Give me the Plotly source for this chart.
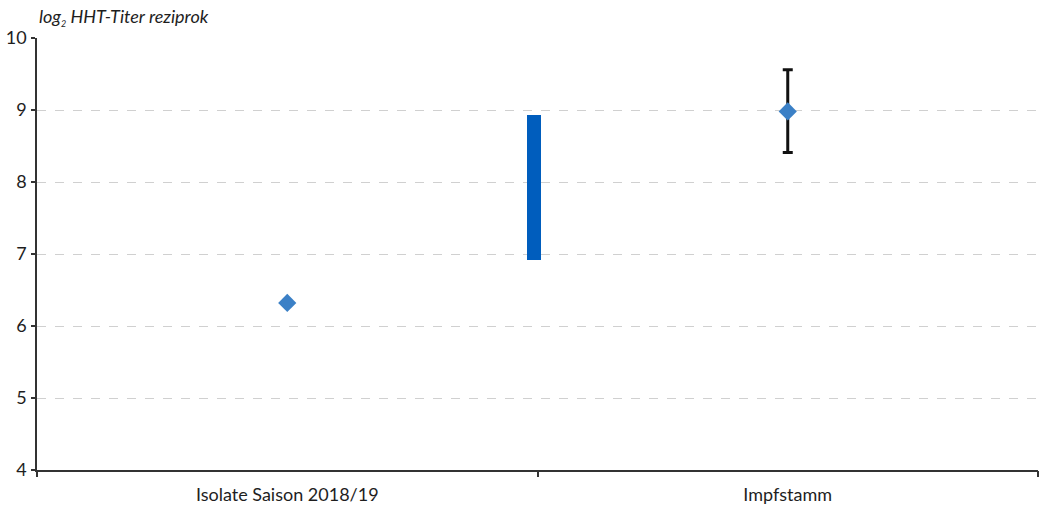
import plotly.graph_objects as go

# Categories and values (log2 HI titer, reciprocal)
categories = ["Isolate Saison 2018/19", "Impfstamm"]
isolate_mean = [6.32]
range_low = [6.92]
range_high = [8.93]
vaccine_mean = [8.98]
vaccine_err_plus = [0.58]
vaccine_err_minus = [0.57]
y_ticks = [4, 5, 6, 7, 8, 9, 10]

FONT = "Lato"
POINT_COLOR = "#3b80c6"
BAR_COLOR = "#005dbd"
TEXT_COLOR = "#1e1e1e"

fig = go.Figure()

# Range bar between the two groups
fig.add_trace(go.Bar(
    x=[0.493], y=[range_high[0] - range_low[0]], base=range_low,
    width=0.026, marker=dict(color=BAR_COLOR, line=dict(width=0)),
    hoverinfo="skip", showlegend=False,
))

# Isolate mean
fig.add_trace(go.Scatter(
    x=[0], y=isolate_mean, mode="markers",
    marker=dict(symbol="diamond", size=14, color=POINT_COLOR),
    showlegend=False,
))

# Vaccine strain with error bars
fig.add_trace(go.Scatter(
    x=[1], y=vaccine_mean, mode="markers",
    marker=dict(symbol="diamond", size=14, color=POINT_COLOR),
    error_y=dict(type="data", symmetric=False, array=vaccine_err_plus,
                 arrayminus=vaccine_err_minus, color="#111111",
                 thickness=3, width=5),
    showlegend=False,
))

# Invisible trace to bind the boundary-tick axis
fig.add_trace(go.Scatter(x=[-0.5, 1.5], y=[4, 4], xaxis="x2", mode="lines",
                         line=dict(width=0), hoverinfo="skip", showlegend=False))

fig.update_layout(
    width=1045, height=505,
    margin=dict(l=37, r=7, t=38, b=35),
    plot_bgcolor="white", paper_bgcolor="white",
    font=dict(family=FONT, size=17, color=TEXT_COLOR),
    bargap=0,
    xaxis=dict(
        range=[-0.5, 1.5], tickvals=[0, 1], ticktext=categories,
        ticks="", showgrid=False, zeroline=False, automargin=False,
        showline=True, linecolor="#333333", linewidth=1.5,
        tickfont=dict(size=18, color=TEXT_COLOR), ticklabelstandoff=8,
    ),
    xaxis2=dict(
        range=[-0.5, 1.5], overlaying="x", side="bottom", automargin=False,
        tickvals=[-0.5, 0.5, 1.5], showticklabels=False,
        ticks="outside", ticklen=6, tickwidth=1.5, tickcolor="#333333",
        showgrid=False, zeroline=False, showline=False,
    ),
    yaxis=dict(
        range=[4, 10], tickvals=y_ticks, automargin=False,
        ticks="outside", ticklen=4, tickwidth=1.5, tickcolor="#333333",
        showline=True, linecolor="#333333", linewidth=1.5,
        showgrid=True, gridcolor="#d0d0d0", griddash="dash", gridwidth=1,
        zeroline=False, tickfont=dict(size=18, color=TEXT_COLOR),
        ticklabelstandoff=1,
    ),
    annotations=[dict(
        text="<i>log<sub><span style='font-size:9px'>2</span></sub> HHT-Titer reziprok</i>",
        xref="paper", yref="paper", x=0, y=1, xanchor="left", yanchor="bottom",
        yshift=7, showarrow=False, font=dict(size=18, color=TEXT_COLOR),
    )],
)

fig.write_html("out.html")
